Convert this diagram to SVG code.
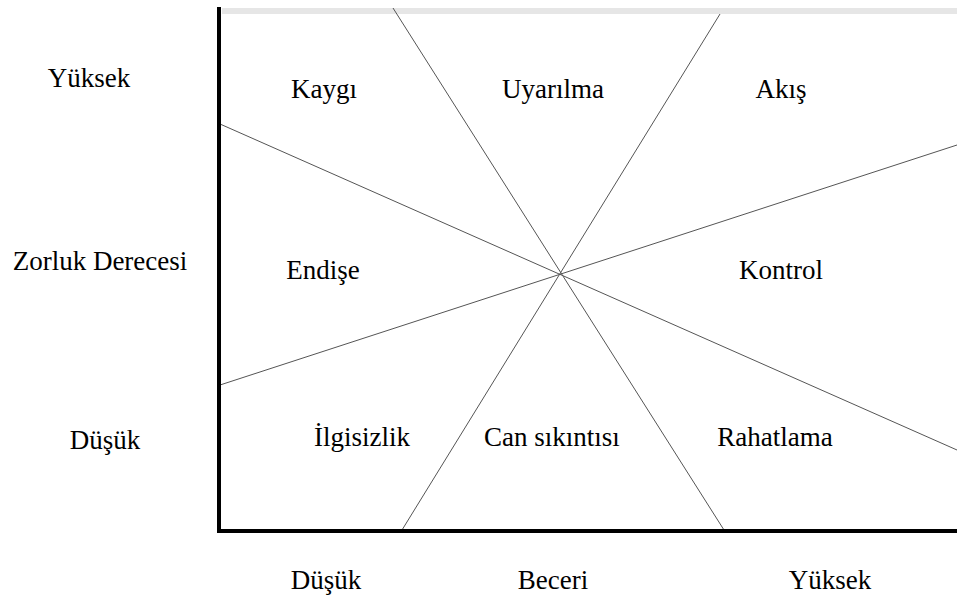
<svg xmlns="http://www.w3.org/2000/svg" width="957" height="597" viewBox="0 0 957 597">
<style>
text{font-family:"Liberation Serif","Times New Roman",serif;font-size:27px;fill:#000;text-anchor:middle}
.div{stroke:#555;stroke-width:1;fill:none}
.axis{stroke:#000;stroke-width:4;fill:none}
</style>
<rect width="957" height="597" fill="#fff"/>
<rect x="222" y="8" width="735" height="6" fill="#e6e6e6"/>
<g id="connectors">
<line class="div" x1="393" y1="8" x2="724" y2="530"/>
<line class="div" x1="720" y1="14" x2="402" y2="530"/>
<line class="div" x1="220" y1="124" x2="957" y2="450"/>
<line class="div" x1="220" y1="385" x2="957" y2="145"/>
</g>
<g id="axes">
<line class="axis" x1="219" y1="7" x2="219" y2="533"/>
<line class="axis" x1="217" y1="531" x2="957" y2="531"/>
</g>
<g id="y-labels">
<text x="89" y="87">Yüksek</text>
<text x="100" y="270">Zorluk Derecesi</text>
<text x="105" y="449">Düşük</text>
</g>
<g id="x-labels">
<text x="326" y="589">Düşük</text>
<text x="553" y="589">Beceri</text>
<text x="830" y="589">Yüksek</text>
</g>
<g id="kaygi"><text x="324" y="98">Kaygı</text></g>
<g id="uyarilma"><text x="553" y="98">Uyarılma</text></g>
<g id="akis"><text x="781" y="98">Akış</text></g>
<g id="endise"><text x="323" y="279">Endişe</text></g>
<g id="kontrol"><text x="781" y="279">Kontrol</text></g>
<g id="ilgisizlik"><text x="362" y="446">İlgisizlik</text></g>
<g id="can-sikintisi"><text x="552" y="446">Can sıkıntısı</text></g>
<g id="rahatlama"><text x="775" y="446">Rahatlama</text></g>
</svg>
